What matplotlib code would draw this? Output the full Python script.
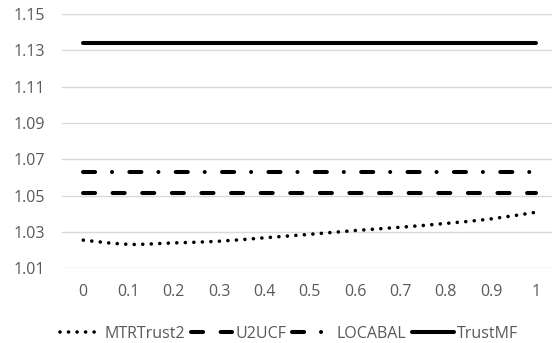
import numpy as np
import matplotlib
matplotlib.use("Agg")
import matplotlib.pyplot as plt
from matplotlib.path import Path
from matplotlib.patches import PathPatch
from matplotlib.lines import Line2D

plt.rcParams['font.family'] = ['Open Sans', 'DejaVu Sans']

x_vals = [0, 0.1, 0.2, 0.3, 0.4, 0.5, 0.6, 0.7, 0.8, 0.9, 1.0]
x_labels = ["0", "0.1", "0.2", "0.3", "0.4", "0.5", "0.6", "0.7", "0.8", "0.9", "1"]
mtrtrust2 = [1.0255, 1.0232, 1.0240, 1.0249, 1.0268, 1.0287, 1.0308, 1.0326, 1.0347, 1.0372, 1.0409]
u2ucf = [1.0515] * 11
locabal = [1.0629] * 11
trustmf = [1.1339] * 11
y_ticks = [1.01, 1.03, 1.05, 1.07, 1.09, 1.11, 1.13, 1.15]

TXT = '#595959'
GRID = '#d9d9d9'
FS = 11.5

fig = plt.figure(figsize=(5.52, 3.43), dpi=100)
ax = fig.add_axes([62/552, 1 - 268.3/343, 1 - 62/552, (268.3 - 14)/343])
ax.set_xlim(-0.047, 1.0347)
ax.set_ylim(1.01, 1.15)
ax.set_yticks(y_ticks)
ax.set_yticklabels([f"{v:.2f}" for v in y_ticks])
ax.set_xticks(x_vals)
ax.set_xticklabels(x_labels)
for s in ax.spines.values():
    s.set_visible(False)
ax.tick_params(length=0, colors=TXT, labelsize=FS)
ax.tick_params(axis='x', pad=11)
ax.tick_params(axis='y', pad=12)
ax.grid(axis='y', color=GRID, lw=1.0)
ax.set_axisbelow(True)


def smooth_path(xs, ys):
    pts = np.column_stack([xs, ys])
    n = len(pts)
    verts = [pts[0]]
    codes = [Path.MOVETO]
    for i in range(n - 1):
        p0 = pts[max(i - 1, 0)]
        p1 = pts[i]
        p2 = pts[i + 1]
        p3 = pts[min(i + 2, n - 1)]
        c1 = p1 + (p2 - p0) / 6.0
        c2 = p2 - (p3 - p1) / 6.0
        verts += [c1, c2, p2]
        codes += [Path.CURVE4] * 3
    return Path(np.array(verts), codes)

dot_style = (0, (0.01, 2.35))
dash_style = (0, (3.0, 4.35))
dashdot_style = (0, (3.0, 4.2, 0.01, 4.3))

patch = PathPatch(smooth_path(x_vals, mtrtrust2), fill=False, edgecolor='black',
                  lw=2.6, linestyle=dot_style, capstyle='round')
ax.add_patch(patch)
ax.plot(x_vals, u2ucf, color='black', lw=2.9, linestyle=dash_style,
        dash_capstyle='round')
ax.plot(x_vals, locabal, color='black', lw=2.9, linestyle=dashdot_style,
        dash_capstyle='round')
ax.plot(x_vals, trustmf, color='black', lw=2.9, solid_capstyle='round')

handles = [
    Line2D([], [], color='black', lw=2.6, linestyle=dot_style, dash_capstyle='round'),
    Line2D([], [], color='black', lw=2.9, linestyle=dash_style, dash_capstyle='round'),
    Line2D([], [], color='black', lw=2.9, linestyle=dashdot_style, dash_capstyle='round'),
    Line2D([], [], color='black', lw=2.9, solid_capstyle='round'),
]
labels = ["MTRTrust2", "U2UCF", "LOCABAL", "TrustMF"]
leg = fig.legend(handles, labels, loc='center', ncol=4,
                 bbox_to_anchor=(289/552, 1 - 334/343), frameon=False,
                 handlelength=2.6, handletextpad=0.2, columnspacing=0.35,
                 fontsize=FS, labelcolor=TXT, borderaxespad=0, borderpad=0)

fig.savefig("out.png", dpi=100)
